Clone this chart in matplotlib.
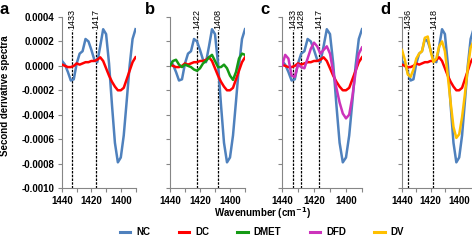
import numpy as np
import matplotlib
matplotlib.use('Agg')
import matplotlib.pyplot as plt
from matplotlib.lines import Line2D
from matplotlib.ticker import MultipleLocator, FixedLocator, FuncFormatter

plt.rcParams['font.family'] = ['Liberation Sans', 'DejaVu Sans']
plt.rcParams['mathtext.default'] = 'bf'

# Wavenumber grid (cm-1) and second-derivative values (x 1e-4)
wavenumber = [1440, 1438, 1436, 1434, 1432, 1430, 1428, 1426, 1424, 1422, 1420, 1418, 1416,
              1414, 1412, 1410, 1408, 1406, 1404, 1402, 1400, 1398, 1396, 1394, 1392, 1390]

nc = [0.4, 0.1, -0.5, -1.2, -1.1, 0.2, 1.0, 1.2, 2.2, 2.0, 1.3, 0.5, 0.3,
      1.6, 3.0, 2.6, 0.2, -3.2, -6.3, -7.9, -7.5, -5.7, -2.9, 0.0, 2.2, 3.0]
dc = [0.1, 0.0, -0.1, -0.1, 0.0, 0.2, 0.1, 0.2, 0.3, 0.3, 0.4, 0.4, 0.5,
      0.7, 0.4, -0.2, -0.8, -1.3, -1.7, -2.0, -2.0, -1.8, -1.1, -0.4, 0.3, 0.7]
dmet = [0.0, 0.4, 0.5, 0.1, -0.1, 0.1, 0.0, -0.1, -0.3, -0.4, -0.2, 0.2, 0.4,
        0.7, 0.9, 0.4, -0.1, -0.1, 0.1, -0.2, -0.8, -1.15, -0.5, 0.6, 1.0, 0.9]
dfd = [0.0, 0.9, 0.6, -0.8, -0.9, 0.1, -0.1, -0.2, 0.6, 1.4, 1.9, 1.6, 1.0,
       1.3, 1.6, 1.0, -0.5, -1.8, -3.0, -3.9, -4.3, -4.0, -2.5, -0.5, 1.0, 1.5]
dv = [1.3, 0.5, -0.7, -0.9, -0.3, 0.6, 1.0, 1.2, 2.3, 2.4, 1.2, 0.3, 0.6,
      1.6, 2.0, 1.2, -0.8, -3.0, -5.0, -5.9, -5.6, -4.2, -2.3, -0.2, 1.5, 2.0]

series = {'NC': nc, 'DC': dc, 'DMET': dmet, 'DFD': dfd, 'DV': dv}
colors = {'NC': '#4f81bd', 'DC': '#ff0000', 'DMET': '#159a15', 'DFD': '#cc33bb', 'DV': '#ffc000'}

panel_letters = ['a', 'b', 'c', 'd']
panel_series = [['NC', 'DC'], ['NC', 'DC', 'DMET'], ['NC', 'DC', 'DFD'], ['NC', 'DC', 'DV']]
panel_marks = [[1433, 1417], [1422, 1408], [1433, 1428, 1417], [1436, 1418]]

W, H = 472, 242
fig = plt.figure(figsize=(W / 100, H / 100), dpi=100)

# panel boxes in pixels: left, right
boxes = [(62, 135.5), (170, 245), (282, 362), (402, 473.5)]
letter_x = [0, 145, 260, 380]
top_px, bot_px = 17, 188

x = np.array(wavenumber)
axis_gray = '#868686'

for i, (l, r) in enumerate(boxes):
    ax = fig.add_axes([l / W, 1 - bot_px / H, (r - l) / W, (bot_px - top_px) / H])
    for name in panel_series[i]:
        ax.plot(x, np.array(series[name]) * 1e-4, color=colors[name], lw=1.8,
                solid_joinstyle='round', zorder=3)
    for m in panel_marks[i]:
        ax.plot([m, m], [-0.0010, 0.00029], color='black', lw=0.9,
                ls=(0, (2, 1)), zorder=2)
        ax.text(m, 0.00030, str(m), rotation=90, ha='center', va='bottom',
                fontsize=6.5, clip_on=False)
    ax.set_xlim(1440, 1390)
    ax.set_ylim(-0.0010, 0.0004)
    ax.xaxis.set_major_locator(FixedLocator([1440, 1420, 1400]))
    ax.xaxis.set_minor_locator(MultipleLocator(10))
    ax.yaxis.set_major_locator(MultipleLocator(0.0002))
    for s in ['top', 'right']:
        ax.spines[s].set_visible(False)
    for s in ['left', 'bottom']:
        ax.spines[s].set_color(axis_gray)
        ax.spines[s].set_linewidth(0.8)
    ax.tick_params(axis='both', which='both', direction='out', color=axis_gray,
                   length=3, width=0.8, labelsize=7, pad=2.5)
    for lab in ax.get_xticklabels():
        lab.set_fontweight('bold')
    if i == 0:
        ax.yaxis.set_major_formatter(FuncFormatter(lambda v, p: f'{v:.4f}'))
        for lab in ax.get_yticklabels():
            lab.set_fontweight('bold')
    else:
        ax.set_yticklabels([])
    ax.patch.set_alpha(0)
    fig.text(letter_x[i] / W, 1 - 2 / H, panel_letters[i], fontsize=12,
             fontweight='bold', ha='left', va='top')

fig.text(5 / W, 1 - 96 / H, 'Second derivative spectra', rotation=90,
         ha='center', va='center', fontsize=7, fontweight='bold')
fig.text(263 / W, 1 - 213 / H, 'Wavenumber (cm$^{-1}$)', ha='center', va='center',
         fontsize=7, fontweight='bold')

handles = [Line2D([], [], color=colors[n], lw=2.2) for n in series]
fig.legend(handles, list(series.keys()), loc='center', ncol=5,
           bbox_to_anchor=(262 / W, 1 - 232 / H), frameon=False,
           handlelength=1.1, handletextpad=0.6, columnspacing=2.9,
           prop={'size': 7, 'weight': 'bold'})

fig.savefig('out.png', dpi=100)
